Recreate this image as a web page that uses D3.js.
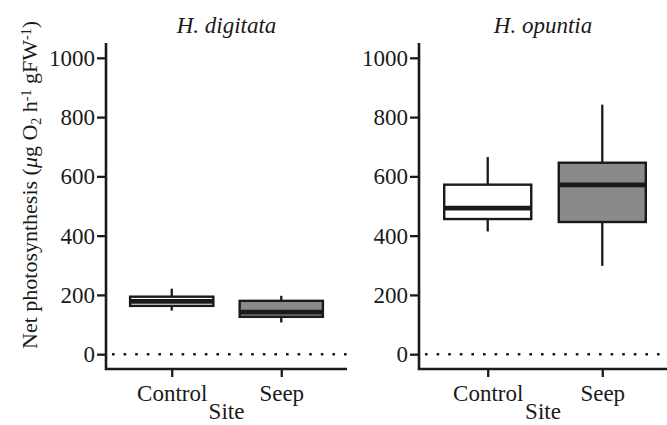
<!DOCTYPE html>
<html>
<head>
<meta charset="utf-8">
<script src="https://cdn.jsdelivr.net/npm/d3@7"></script>
<style>
  body { margin: 0; background: #fff; }
  svg { display: block; }
  text { font-family: "Liberation Serif", "Times New Roman", serif; fill: #1a1a1a; }
</style>
</head>
<body>
<svg id="chart" width="667" height="425"></svg>
<script>
// данные: два вида, два участка
const species = ["H. digitata", "H. opuntia"];
const sites = ["Control", "Seep"];
const siteColors = ["#ffffff", "#8a8a8a"];
const yTicks = [0, 200, 400, 600, 800, 1000];

// [нижний ус, Q1, медиана, Q3, верхний ус]
const digitataStats = [
  [147, 163, 178, 194, 221],
  [107, 126, 142, 180, 197]
];
const opuntiaStats = [
  [414, 456, 493, 572, 665],
  [298, 446, 571, 646, 842]
];
const allStats = [digitataStats, opuntiaStats];

const svg = d3.select("#chart");
const ink = "#1a1a1a";
const serif = "'Liberation Serif', 'Times New Roman', serif";

// области панелей
const panels = [
  { x0: 106, x1: 347 },
  { x0: 419, x1: 671 }
];
const plotTop = 43, plotBottom = 369;

const scY = d3.scaleLinear().domain([-50, 1050]).range([plotBottom, plotTop]);

panels.forEach((p, pi) => {
  const g = svg.append("g");
  const scX = d3.scalePoint().domain(sites).range([p.x0, p.x1]).padding(0.6);
  const boxW = scX.step() * 0.76;
  const midX = pi === 1 ? 543 : (p.x0 + p.x1) / 2;

  // заголовок панели
  g.append("text")
    .attr("x", midX)
    .attr("y", 33)
    .attr("text-anchor", "middle")
    .style("font-style", "italic")
    .style("font-size", "23px")
    .text(species[pi]);

  // пунктир на нуле
  g.append("line")
    .attr("x1", p.x0 + 6).attr("x2", p.x1)
    .attr("y1", scY(0)).attr("y2", scY(0))
    .attr("stroke", ink)
    .attr("stroke-width", 2.6)
    .attr("stroke-dasharray", "2.6,9");

  // ось Y
  const axY = g.append("g")
    .attr("transform", `translate(${p.x0},0)`)
    .call(d3.axisLeft(scY).tickValues(yTicks).tickFormat(d3.format("d"))
      .tickSize(9).tickPadding(2).tickSizeOuter(0));
  axY.attr("font-family", serif).attr("font-size", 23);
  axY.select(".domain").remove();
  axY.selectAll(".tick line").attr("stroke", ink).attr("stroke-width", 2.3);
  axY.selectAll(".tick text").attr("fill", ink);

  // ось X
  const axX = g.append("g")
    .attr("transform", `translate(0,${plotBottom})`)
    .call(d3.axisBottom(scX).tickSize(8).tickPadding(8).tickSizeOuter(0));
  axX.attr("font-family", serif).attr("font-size", 23);
  axX.select(".domain").remove();
  axX.selectAll(".tick line").attr("stroke", ink).attr("stroke-width", 2.3);
  axX.selectAll(".tick text").attr("fill", ink);

  // линии осей
  g.append("path")
    .attr("d", `M${p.x0},${plotTop}V${plotBottom}H${p.x1}`)
    .attr("fill", "none")
    .attr("stroke", ink)
    .attr("stroke-width", 2.6);

  // подпись Site
  g.append("text")
    .attr("x", midX)
    .attr("y", 419)
    .attr("text-anchor", "middle")
    .style("font-size", "23px")
    .text("Site");

  // ящики с усами
  const boxes = g.selectAll(".box")
    .data(allStats[pi].map((s, i) => ({ site: sites[i], s: s, color: siteColors[i] })))
    .enter().append("g").attr("class", "box");

  boxes.append("line")
    .attr("x1", d => scX(d.site)).attr("x2", d => scX(d.site))
    .attr("y1", d => scY(d.s[0])).attr("y2", d => scY(d.s[4]))
    .attr("stroke", ink).attr("stroke-width", 2.3);

  boxes.append("rect")
    .attr("x", d => scX(d.site) - boxW / 2)
    .attr("width", boxW)
    .attr("y", d => scY(d.s[3]))
    .attr("height", d => scY(d.s[1]) - scY(d.s[3]))
    .attr("fill", d => d.color)
    .attr("stroke", ink).attr("stroke-width", 2.4);

  boxes.append("line")
    .attr("x1", d => scX(d.site) - boxW / 2).attr("x2", d => scX(d.site) + boxW / 2)
    .attr("y1", d => scY(d.s[2])).attr("y2", d => scY(d.s[2]))
    .attr("stroke", ink).attr("stroke-width", 4.7);
});

// подпись оси Y
const yLab = svg.append("text")
  .attr("transform", "translate(37,185) rotate(-90)")
  .attr("text-anchor", "middle")
  .style("font-size", "22px");
yLab.append("tspan").text("Net photosynthesis (");
yLab.append("tspan").style("font-style", "italic").text("μ");
yLab.append("tspan").text("g O");
yLab.append("tspan").attr("baseline-shift", "-25%").style("font-size", "14px").text("2");
yLab.append("tspan").text(" h");
yLab.append("tspan").attr("baseline-shift", "45%").style("font-size", "14px").text("-1");
yLab.append("tspan").text(" gFW");
yLab.append("tspan").attr("baseline-shift", "45%").style("font-size", "14px").text("-1");
yLab.append("tspan").text(")");
</script>
</body>
</html>
